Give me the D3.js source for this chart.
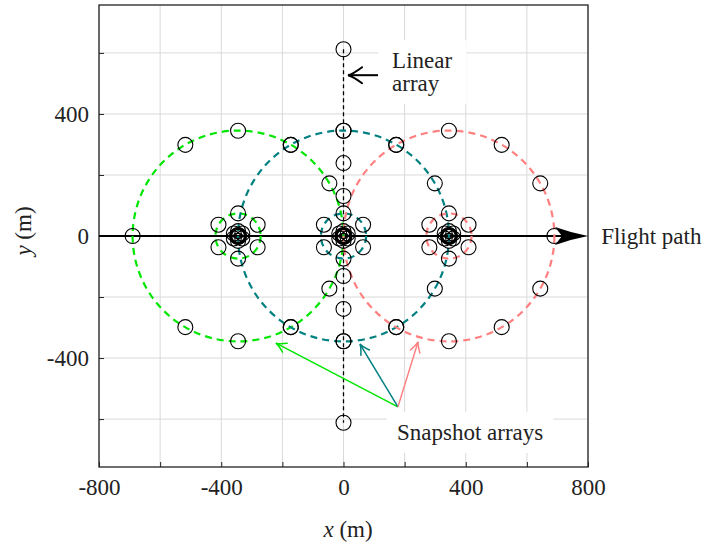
<!DOCTYPE html>
<html>
<head>
<meta charset="utf-8">
<script src="https://cdn.jsdelivr.net/npm/d3@7"></script>
<style>
body { margin: 0; background: #fff; }
svg { display: block; }
svg text { font-family: "Liberation Serif", "Times New Roman", Times, "DejaVu Serif", serif; }
</style>
</head>
<body>
<svg id="chart" width="712" height="546"></svg>
<script>
// grid and ticks
const gridX = [-800, -600, -400, -200, 0, 200, 400, 600, 800];
const gridY = [-600, -400, -200, 0, 200, 400, 600];
const xTickLabels = [-800, -400, 0, 400, 800];
const yTickLabels = [-400, 0, 400];

// snapshot arrays (m, degrees)
const snapshotCentres = [-345, 0, 345];
const snapshotColours = ["#00e600", "#008080", "#ff8080"];
const outerRadius = 345;
const outerAngles = [0, 30, 60, 90, 120, 180, 240, 270, 300, 330];
const hexRadius = 74;
const innerRadius = 16;
const coreRadius = 3.5;
const hexAngles = [30, 90, 150, 210, 270, 330];

// linear array along x = 0
const linearArrayY = [612, 345, 239, 131, -131, -239, -345, -612];

// annotations (m)
const flightPath = [-800, 800];
const linearArrowTail = [113, 527], linearArrowTip = [15, 527];
const snapshotArrowTail = [178, -560];
const snapshotArrowTips = [[-221, -351], [54, -354], [244, -347]];
const labelPos = {
  linear: [159, 550], array: [159, 475],
  flight: [843, 0], snapshot: [175, -668]
};

const x = d3.scaleLinear().domain([-800, 800]).range([99, 588]);
const y = d3.scaleLinear().domain([-757, 757]).range([467, 5]);

const svg = d3.select("#chart");

// grid
svg.append("g").selectAll("line").data(gridX).join("line")
  .attr("x1", d => x(d)).attr("x2", d => x(d))
  .attr("y1", y(-757)).attr("y2", y(757))
  .attr("stroke", "#d9d9d9").attr("stroke-width", 1);
svg.append("g").selectAll("line").data(gridY).join("line")
  .attr("y1", d => y(d)).attr("y2", d => y(d))
  .attr("x1", x(-800)).attr("x2", x(800))
  .attr("stroke", "#d9d9d9").attr("stroke-width", 1);

// white label boxes over the grid
const boxes = svg.append("g");

// axes
const xAxis = d3.axisBottom(x).tickValues(gridX)
  .tickFormat(d => xTickLabels.includes(d) ? d : "")
  .tickSizeInner(-5).tickSizeOuter(0).tickPadding(12);
const yAxis = d3.axisLeft(y).tickValues(gridY)
  .tickFormat(d => yTickLabels.includes(d) ? d : "")
  .tickSizeInner(-5).tickSizeOuter(0).tickPadding(10);

const gx = svg.append("g").attr("transform", `translate(0,${y(-757)})`).call(xAxis);
const gy = svg.append("g").attr("transform", `translate(${x(-800)},0)`).call(yAxis);
[gx, gy].forEach(g => {
  g.attr("font-family", null);
  g.select(".domain").remove();
  g.selectAll("line").attr("stroke", "#222");
  g.selectAll("text").attr("font-size", 23).attr("fill", "#222");
});

// frame
svg.append("rect")
  .attr("x", x(-800)).attr("y", y(757))
  .attr("width", x(800) - x(-800)).attr("height", y(-757) - y(757))
  .attr("fill", "none").attr("stroke", "#222").attr("stroke-width", 1.3);

// flight path
svg.append("line")
  .attr("x1", x(flightPath[0])).attr("x2", x(flightPath[1]) - 20)
  .attr("y1", y(0)).attr("y2", y(0))
  .attr("stroke", "#000").attr("stroke-width", 2);
{
  const tx = x(flightPath[1]), ty = y(0);
  svg.append("path")
    .attr("d", `M${tx},${ty} Q${tx - 16},${ty + 3} ${tx - 33},${ty + 9} L${tx - 26},${ty} L${tx - 33},${ty - 9} Q${tx - 16},${ty - 3} ${tx},${ty}Z`)
    .attr("fill", "#000");
}

// linear array line
svg.append("line")
  .attr("x1", x(0)).attr("x2", x(0))
  .attr("y1", y(d3.max(linearArrayY))).attr("y2", y(d3.min(linearArrayY)))
  .attr("stroke", "#000").attr("stroke-width", 1.3).attr("stroke-dasharray", "4,3");

// dashed circles
const pxr = r => x(r) - x(0);
const circles = svg.append("g");
snapshotCentres.forEach((c, i) => {
  [outerRadius, hexRadius].forEach(r => {
    circles.append("circle")
      .attr("cx", x(c)).attr("cy", y(0)).attr("r", pxr(r))
      .attr("fill", "none").attr("stroke", snapshotColours[i])
      .attr("stroke-width", 2.2).attr("stroke-dasharray", "7,5");
  });
});

// element positions
const rad = Math.PI / 180;
const elements = [];
snapshotCentres.forEach(c => {
  outerAngles.forEach(a => elements.push([c + outerRadius * Math.cos(a * rad), outerRadius * Math.sin(a * rad)]));
  [hexRadius, innerRadius, coreRadius].forEach(r =>
    hexAngles.forEach(a => elements.push([c + r * Math.cos(a * rad), r * Math.sin(a * rad)])));
  elements.push([c, 0]);
});
linearArrayY.forEach(v => elements.push([0, v]));

svg.append("g").selectAll("circle").data(elements).join("circle")
  .attr("cx", d => x(d[0])).attr("cy", d => y(d[1])).attr("r", 7.5)
  .attr("fill", "none").attr("stroke", "#000").attr("stroke-width", 1.1);

// arrows
function arrow(tail, tip, colour, sw, len, half) {
  const x1 = x(tail[0]), y1 = y(tail[1]), x2 = x(tip[0]), y2 = y(tip[1]);
  const ang = Math.atan2(y2 - y1, x2 - x1) * 180 / Math.PI;
  svg.append("line").attr("x1", x1).attr("y1", y1).attr("x2", x2).attr("y2", y2)
    .attr("stroke", colour).attr("stroke-width", sw);
  svg.append("path")
    .attr("d", `M${-len},${-half} Q${-len * 0.35},${-half * 0.15} 0,0 Q${-len * 0.35},${half * 0.15} ${-len},${half}`)
    .attr("transform", `translate(${x2},${y2}) rotate(${ang})`)
    .attr("fill", "none").attr("stroke", colour).attr("stroke-width", sw)
    .attr("stroke-linecap", "round");
}
arrow(linearArrowTail, linearArrowTip, "#000", 2, 14, 8);
snapshotArrowTips.forEach((t, i) => arrow(snapshotArrowTail, t, snapshotColours[i], 1.5, 10, 5));

// annotation labels
const labels = svg.append("g").attr("font-size", 23).attr("fill", "#222");
function label(text, pos, baseline) {
  return labels.append("text").attr("x", x(pos[0])).attr("y", y(pos[1]))
    .attr("dominant-baseline", baseline || "alphabetic").text(text);
}
const tLinear = label("Linear", labelPos.linear);
const tArray = label("array", labelPos.array);
label("Flight path", labelPos.flight, "central");
const tSnap = label("Snapshot arrays", labelPos.snapshot);

function box(nodes, padX, padY) {
  const bb = nodes.map(n => n.node().getBBox());
  const x0 = d3.min(bb, b => b.x) - padX, x1 = d3.max(bb, b => b.x + b.width) + padX;
  const y0 = d3.min(bb, b => b.y) - padY, y1 = d3.max(bb, b => b.y + b.height) + padY;
  boxes.append("rect").attr("x", x0).attr("y", y0).attr("width", x1 - x0).attr("height", y1 - y0)
    .attr("fill", "#fff");
}
box([tLinear, tArray], 14, 8);
box([tSnap], 10, 8);

// axis titles
svg.append("text").attr("x", 348).attr("y", 537).attr("text-anchor", "middle")
  .attr("font-size", 23).attr("fill", "#222")
  .call(t => { t.append("tspan").attr("font-style", "italic").text("x"); t.append("tspan").text(" (m)"); });
svg.append("text").attr("transform", "translate(31,231) rotate(-90)").attr("text-anchor", "middle")
  .attr("font-size", 23).attr("fill", "#222")
  .call(t => { t.append("tspan").attr("font-style", "italic").text("y"); t.append("tspan").text(" (m)"); });
</script>
</body>
</html>
